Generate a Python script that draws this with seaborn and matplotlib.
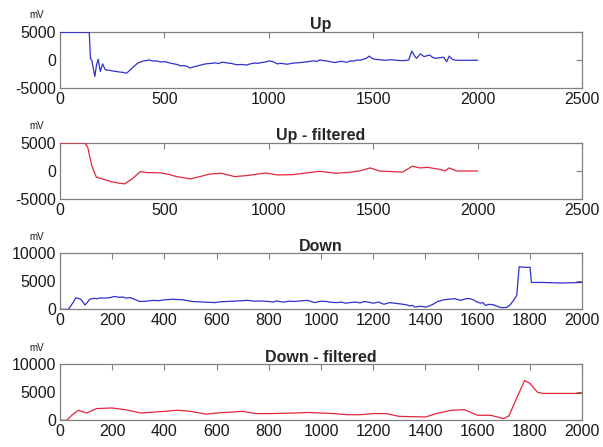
import numpy as np
import pandas as pd
import matplotlib
matplotlib.use("Agg")
import matplotlib.pyplot as plt
import seaborn as sns

# values (x in samples, y in mV)
up_x = [0, 140, 146, 152, 160, 167, 175, 183, 193, 204, 217, 230, 244, 257, 270, 285, 300, 319,
        337, 348, 360, 372, 385, 398, 411, 430, 445, 460, 482, 504, 522, 540, 560, 578, 595, 610,
        622, 633, 647, 660, 675, 690, 708, 726, 743, 760, 775, 790, 805, 819, 835, 850, 870, 893,
        910, 930, 948, 965, 985, 1004, 1020, 1041, 1055, 1070, 1083, 1096, 1118, 1140, 1165,
        1189, 1202, 1215, 1230, 1244, 1262, 1280, 1300, 1319, 1335, 1350, 1372, 1393, 1407,
        1420, 1435, 1450, 1467, 1481, 1492, 1504, 1517, 1530, 1545, 1559, 1580, 1600, 1625,
        1652, 1670, 1685, 1696, 1707, 1716, 1726, 1735, 1744, 1757, 1770, 1785, 1800, 1818,
        1837, 1852, 1864, 1878, 1893, 1920, 1950, 1975, 2000]
up_y = [5000, 5000, 300, 0, -1500, -2900, -800, 180, -2000, -650, -1700, -1750, -1850, -1950,
        -2000, -2100, -2150, -2300, -1700, -1300, -900, -500, -300, -150, -50, 50, -150, -100,
        -300, -250, -450, -600, -750, -1000, -950, -1100, -1400, -1250, -1100, -1000, -850,
        -700, -600, -550, -450, -600, -350, -400, -500, -550, -700, -800, -750, -850, -650,
        -500, -550, -400, -300, -100, -250, -650, -550, -600, -700, -650, -500, -450, -350,
        -250, -150, -100, -200, 50, -50, -150, -300, -400, -250, -200, -350, -100, -150, 50,
        0, 150, 350, 750, 400, 200, 150, 100, 50, 0, 100, 50, -50, -50, 50, 1650, 900, 350,
        700, 1150, 900, 650, 800, 950, 500, 350, 450, 550, -250, 750, 200, 0, 0, 0, 0, 0]

upf_x = [0, 118, 133, 152, 174, 198, 244, 280, 309, 346, 385, 420, 450, 485, 520, 559, 624, 670,
         717, 772, 837, 900, 985, 1041, 1115, 1180, 1244, 1319, 1383, 1439, 1485, 1530, 1641,
         1687, 1724, 1761, 1817, 1844, 1863, 1900, 2000]
upf_y = [5000, 5000, 4200, 950, -1100, -1350, -1900, -2150, -2300, -1400, -100, -300, -300,
         -350, -600, -1000, -1400, -1000, -550, -400, -1000, -800, -350, -700, -650, -350, -50,
         -400, -250, 50, 550, 0, -200, 850, 550, 650, 300, 0, 550, 0, 0]

down_x = [0, 32, 50, 61, 80, 96, 115, 130, 143, 157, 170, 192, 209, 225, 240, 255, 268, 285,
          305, 330, 357, 380, 400, 431, 450, 470, 488, 505, 528, 550, 570, 593, 615, 640, 660,
          681, 700, 720, 745, 770, 799, 815, 830, 845, 858, 880, 900, 920, 947, 962, 976, 998,
          1020, 1040, 1060, 1078, 1094, 1112, 1130, 1150, 1168, 1185, 1200, 1220, 1241, 1262,
          1280, 1298, 1315, 1328, 1340, 1350, 1360, 1380, 1403, 1425, 1447, 1470, 1490, 1512,
          1535, 1555, 1570, 1584, 1594, 1602, 1610, 1620, 1630, 1645, 1661, 1672, 1686, 1697,
          1712, 1724, 1736, 1750, 1759, 1780, 1801, 1806, 1845, 1880, 1920, 1960, 2000]
down_y = [0, 0, 1200, 2070, 1800, 770, 1840, 1950, 1900, 2050, 2000, 2100, 2300, 2150, 2200,
          2000, 2100, 1800, 1400, 1450, 1600, 1550, 1700, 1800, 1750, 1700, 1550, 1400, 1350,
          1300, 1250, 1200, 1350, 1400, 1450, 1500, 1550, 1600, 1450, 1500, 1400, 1300, 1500,
          1350, 1300, 1450, 1400, 1500, 1600, 1400, 1200, 1450, 1400, 1250, 1200, 1300, 1100,
          1200, 1300, 1150, 1400, 1250, 1100, 1300, 900, 1200, 1100, 1000, 900, 800, 600, 700,
          400, 550, 400, 800, 1400, 1700, 1800, 1900, 1600, 1900, 1900, 1700, 1400, 1250, 1100,
          1200, 700, 900, 800, 600, 350, 300, 350, 770, 1500, 2500, 7600, 7500, 7500, 4800,
          4800, 4750, 4700, 4750, 4800]

downf_x = [0, 26, 45, 70, 102, 140, 200, 250, 310, 400, 450, 500, 560, 600, 700, 750, 800, 900,
           950, 1000, 1050, 1100, 1150, 1200, 1250, 1300, 1400, 1450, 1500, 1550, 1600, 1650,
           1700, 1720, 1750, 1780, 1800, 1830, 1850, 2000]
downf_y = [0, 0, 900, 1800, 1300, 2100, 2200, 1900, 1300, 1600, 1800, 1600, 1100, 1300, 1600,
           1200, 1200, 1300, 1400, 1300, 1200, 1000, 1000, 1200, 1200, 700, 600, 1300, 1800,
           1900, 900, 900, 300, 800, 4000, 7100, 6600, 5000, 4800, 4800]

titles = ["Up", "Up - filtered", "Down", "Down - filtered"]

sns.set_style("white")
plt.rcParams["font.family"] = ["Liberation Sans", "DejaVu Sans"]
plt.rcParams["axes.unicode_minus"] = False

fig = plt.figure(figsize=(6.03, 4.47), dpi=100)

blue = "#3030cc"
red = "#e0283a"
panels = [
    (up_x, up_y, blue, (0, 2500), np.arange(0, 2501, 500), (-5000, 5000), [-5000, 0, 5000], 0.8025),
    (upf_x, upf_y, red, (0, 2500), np.arange(0, 2501, 500), (-5000, 5000), [-5000, 0, 5000], 0.5548),
    (down_x, down_y, blue, (0, 2000), np.arange(0, 2001, 200), (0, 10000), [0, 5000, 10000], 0.308),
    (downf_x, downf_y, red, (0, 2000), np.arange(0, 2001, 200), (0, 10000), [0, 5000, 10000], 0.0597),
]

for (xs, ys, col, xl, xt, yl, yt, bottom), title in zip(panels, titles):
    ax = fig.add_axes([0.0995, bottom, 0.8657, 0.1253])
    df = pd.DataFrame({"x": xs, "y": ys})
    sns.lineplot(data=df, x="x", y="y", ax=ax, color=col, linewidth=0.9,
                 estimator=None, sort=False, zorder=3)
    ax.set_xlim(xl)
    ax.set_ylim(yl)
    ax.set_xticks(xt)
    ax.set_yticks(yt)
    ax.set_xlabel("")
    ax.set_ylabel("")
    ax.set_title(title, fontsize=11.5, fontweight="bold", pad=2)
    ax.tick_params(direction="in", length=4, width=0.8, top=True, right=True,
                   labelsize=11.5, colors="#808080", labelcolor="#1a1a1a", pad=3)
    for s in ax.spines.values():
        s.set_visible(True)
        s.set_color("#808080")
        s.set_linewidth(0.9)
    ax.text(-0.044, 1.30, "mV", transform=ax.transAxes, fontsize=7,
            ha="center", va="center", color="#1a1a1a")

fig.savefig("out.png", dpi=100)
